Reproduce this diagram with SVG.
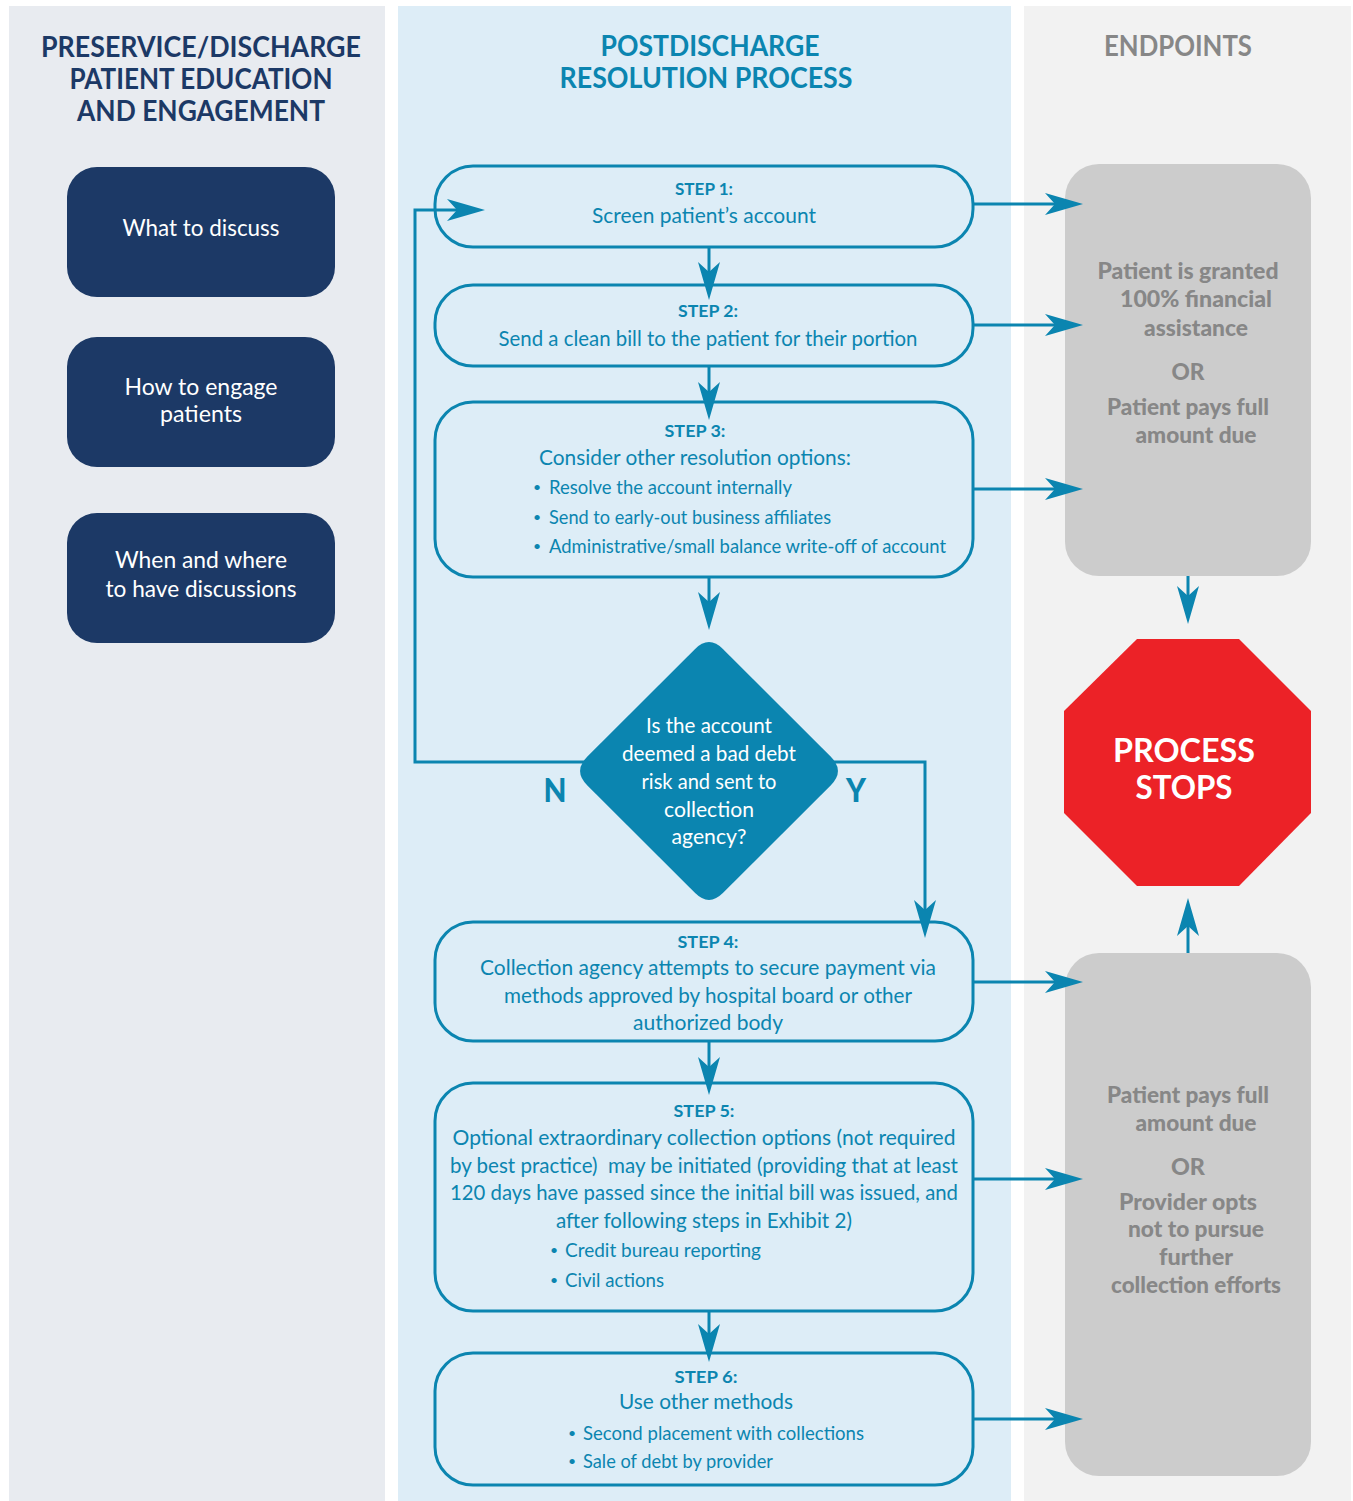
<svg xmlns="http://www.w3.org/2000/svg" width="1353" height="1501" viewBox="0 0 1353 1501">
<style>
text { font-family: Lato, "Open Sans", "Liberation Sans", sans-serif; }
.hdr { font-size: 28px; font-weight: bold; text-anchor: middle; }
.navy-t { font-size: 24px; fill: #ffffff; text-anchor: middle; }
.lbl { font-size: 17px; font-weight: bold; fill: #0b85b0; text-anchor: middle; }
.st { font-size: 22px; fill: #0b85b0; text-anchor: middle; }
.bt { font-size: 19px; fill: #0b85b0; }
.dot { font-size: 14px; fill: #0b85b0; text-anchor: middle; }
.dt { font-size: 22px; fill: #ffffff; text-anchor: middle; }
.gt { font-size: 22px; font-weight: 900; fill: #878787; text-anchor: middle; }
.yn { font-size: 32px; font-weight: 900; fill: #0b85b0; text-anchor: middle; }
.stop { font-size: 33px; font-weight: bold; fill: #ffffff; text-anchor: middle; }
.box { fill: none; stroke: #0b85b0; stroke-width: 3; }
.navy { fill: #1c3966; }
.grey { fill: #cccccc; }
.conn { fill: none; stroke: #0b85b0; stroke-width: 3; marker-end: url(#ah); }
</style>
<defs>
<marker id="ah" markerUnits="userSpaceOnUse" markerWidth="38" markerHeight="22" viewBox="0 0 38 22" refX="10" refY="11" orient="auto">
<path d="M0,0 L38,11 L0,22 L10,11 Z" fill="#0b85b0"/>
</marker>
</defs>
<rect width="1353" height="1501" fill="#ffffff"/>
<g id="panels">
<rect x="9" y="6" width="376" height="1495" fill="#e8ebf0"/>
<rect x="398" y="6" width="613" height="1495" fill="#ddedf7"/>
<rect x="1024" y="6" width="327" height="1495" fill="#f2f2f2"/>
</g>
<g id="headers">
<text class="hdr" fill="#1c3966" x="201" y="57" textLength="320" lengthAdjust="spacingAndGlyphs">PRESERVICE/DISCHARGE</text>
<text class="hdr" fill="#1c3966" x="201" y="89" textLength="263" lengthAdjust="spacingAndGlyphs">PATIENT EDUCATION</text>
<text class="hdr" fill="#1c3966" x="201" y="121" textLength="248" lengthAdjust="spacingAndGlyphs">AND ENGAGEMENT</text>
<text class="hdr" fill="#0b85b0" x="710" y="56" textLength="219" lengthAdjust="spacingAndGlyphs">POSTDISCHARGE</text>
<text class="hdr" fill="#0b85b0" x="706" y="88" textLength="293" lengthAdjust="spacingAndGlyphs">RESOLUTION PROCESS</text>
<text class="hdr" fill="#878787" x="1178" y="56" textLength="148" lengthAdjust="spacingAndGlyphs">ENDPOINTS</text>
</g>
<g id="edu-what">
<rect class="navy" x="67" y="167" width="268" height="130" rx="30"/>
<text class="navy-t" x="201" y="236" textLength="157" lengthAdjust="spacingAndGlyphs">What to discuss</text>
</g>
<g id="edu-how">
<rect class="navy" x="67" y="337" width="268" height="130" rx="30"/>
<text class="navy-t" x="201" y="395" textLength="153" lengthAdjust="spacingAndGlyphs">How to engage</text>
<text class="navy-t" x="201" y="422" textLength="82" lengthAdjust="spacingAndGlyphs">patients</text>
</g>
<g id="edu-when">
<rect class="navy" x="67" y="513" width="268" height="130" rx="30"/>
<text class="navy-t" x="201" y="568" textLength="172" lengthAdjust="spacingAndGlyphs">When and where</text>
<text class="navy-t" x="201" y="597" textLength="191" lengthAdjust="spacingAndGlyphs">to have discussions</text>
</g>
<g id="step1">
<rect class="box" x="435" y="166" width="538" height="81" rx="38"/>
<text class="lbl" x="704" y="195" textLength="58" lengthAdjust="spacingAndGlyphs">STEP 1:</text>
<text class="st" x="704" y="223" textLength="224" lengthAdjust="spacingAndGlyphs">Screen patient’s account</text>
</g>
<g id="step2">
<rect class="box" x="435" y="285" width="538" height="81" rx="38"/>
<text class="lbl" x="708" y="317" textLength="60" lengthAdjust="spacingAndGlyphs">STEP 2:</text>
<text class="st" x="708" y="346" textLength="419" lengthAdjust="spacingAndGlyphs">Send a clean bill to the patient for their portion</text>
</g>
<g id="step3">
<rect class="box" x="435" y="402" width="538" height="175" rx="38"/>
<text class="lbl" x="695" y="437" textLength="61" lengthAdjust="spacingAndGlyphs">STEP 3:</text>
<text class="st" x="695" y="465" textLength="312" lengthAdjust="spacingAndGlyphs">Consider other resolution options:</text>
<text class="dot" x="537" y="492">•</text>
<text class="bt" x="549" y="494" textLength="243" lengthAdjust="spacingAndGlyphs">Resolve the account internally</text>
<text class="dot" x="537" y="522">•</text>
<text class="bt" x="549" y="524" textLength="282" lengthAdjust="spacingAndGlyphs">Send to early-out business affiliates</text>
<text class="dot" x="537" y="551">•</text>
<text class="bt" x="549" y="553" textLength="397" lengthAdjust="spacingAndGlyphs">Administrative/small balance write-off of account</text>
</g>
<g id="step4">
<rect class="box" x="435" y="922" width="538" height="119" rx="38"/>
<text class="lbl" x="708" y="948" textLength="61" lengthAdjust="spacingAndGlyphs">STEP 4:</text>
<text class="st" x="708" y="975" textLength="456" lengthAdjust="spacingAndGlyphs">Collection agency attempts to secure payment via</text>
<text class="st" x="708" y="1003" textLength="408" lengthAdjust="spacingAndGlyphs">methods approved by hospital board or other</text>
<text class="st" x="708" y="1030" textLength="150" lengthAdjust="spacingAndGlyphs">authorized body</text>
</g>
<g id="step5">
<rect class="box" x="435" y="1083" width="538" height="228" rx="38"/>
<text class="lbl" x="704" y="1117" textLength="61" lengthAdjust="spacingAndGlyphs">STEP 5:</text>
<text class="st" x="704" y="1145" textLength="503" lengthAdjust="spacingAndGlyphs">Optional extraordinary collection options (not required</text>
<text class="st" x="704" y="1173" textLength="508" lengthAdjust="spacingAndGlyphs" xml:space="preserve">by best practice)  may be initiated (providing that at least</text>
<text class="st" x="704" y="1200" textLength="508" lengthAdjust="spacingAndGlyphs">120 days have passed since the initial bill was issued, and</text>
<text class="st" x="704" y="1228" textLength="296" lengthAdjust="spacingAndGlyphs">after following steps in Exhibit 2)</text>
<text class="dot" x="554" y="1255">•</text>
<text class="bt" x="565" y="1257" textLength="196" lengthAdjust="spacingAndGlyphs">Credit bureau reporting</text>
<text class="dot" x="554" y="1285">•</text>
<text class="bt" x="565" y="1287" textLength="99" lengthAdjust="spacingAndGlyphs">Civil actions</text>
</g>
<g id="step6">
<rect class="box" x="435" y="1353" width="538" height="132" rx="38"/>
<text class="lbl" x="706" y="1383" textLength="63" lengthAdjust="spacingAndGlyphs">STEP 6:</text>
<text class="st" x="706" y="1409" textLength="174" lengthAdjust="spacingAndGlyphs">Use other methods</text>
<text class="dot" x="572" y="1438">•</text>
<text class="bt" x="583" y="1440" textLength="281" lengthAdjust="spacingAndGlyphs">Second placement with collections</text>
<text class="dot" x="572" y="1466">•</text>
<text class="bt" x="583" y="1468" textLength="190" lengthAdjust="spacingAndGlyphs">Sale of debt by provider</text>
</g>
<g id="endpoint-top">
<rect class="grey" x="1065" y="164" width="246" height="412" rx="34"/>
<text class="gt" x="1188" y="279" textLength="181" lengthAdjust="spacingAndGlyphs">Patient is granted</text>
<text class="gt" x="1196" y="307" textLength="152" lengthAdjust="spacingAndGlyphs">100% financial</text>
<text class="gt" x="1196" y="336" textLength="104" lengthAdjust="spacingAndGlyphs">assistance</text>
<text class="gt" x="1188" y="380" textLength="33" lengthAdjust="spacingAndGlyphs">OR</text>
<text class="gt" x="1188" y="415" textLength="162" lengthAdjust="spacingAndGlyphs">Patient pays full</text>
<text class="gt" x="1196" y="443" textLength="121" lengthAdjust="spacingAndGlyphs">amount due</text>
</g>
<g id="endpoint-bottom">
<rect class="grey" x="1065" y="953" width="246" height="523" rx="34"/>
<text class="gt" x="1188" y="1103" textLength="162" lengthAdjust="spacingAndGlyphs">Patient pays full</text>
<text class="gt" x="1196" y="1131" textLength="121" lengthAdjust="spacingAndGlyphs">amount due</text>
<text class="gt" x="1188" y="1175" textLength="34" lengthAdjust="spacingAndGlyphs">OR</text>
<text class="gt" x="1188" y="1210" textLength="138" lengthAdjust="spacingAndGlyphs">Provider opts</text>
<text class="gt" x="1196" y="1237" textLength="136" lengthAdjust="spacingAndGlyphs">not to pursue</text>
<text class="gt" x="1196" y="1265" textLength="74" lengthAdjust="spacingAndGlyphs">further</text>
<text class="gt" x="1196" y="1293" textLength="170" lengthAdjust="spacingAndGlyphs">collection efforts</text>
</g>
<g id="process-stops">
<polygon points="1137,639 1239,639 1311,711 1311,813 1239,886 1137,886 1064,813 1064,711" fill="#ec2227"/>
<text class="stop" x="1184" y="762" textLength="142" lengthAdjust="spacingAndGlyphs">PROCESS</text>
<text class="stop" x="1184" y="799" textLength="97" lengthAdjust="spacingAndGlyphs">STOPS</text>
</g>
<g id="connectors">
<path class="conn" d="M973,204 H1055"/>
<path class="conn" d="M973,325 H1055"/>
<path class="conn" d="M973,489 H1055"/>
<path class="conn" d="M973,982 H1055"/>
<path class="conn" d="M973,1179 H1055"/>
<path class="conn" d="M973,1419 H1055"/>
<path class="conn" d="M709,247 V272"/>
<path class="conn" d="M709,366 V392"/>
<path class="conn" d="M709,577 V602"/>
<path class="conn" d="M709,1041 V1067"/>
<path class="conn" d="M709,1311 V1334"/>
<path class="conn" d="M590,762 H415 V210 H457"/>
<path class="conn" d="M830,762 H925 V910"/>
<path class="conn" d="M1188,576 V596"/>
<path class="conn" d="M1188,953 V926"/>
<text class="yn" x="555" y="802" textLength="23" lengthAdjust="spacingAndGlyphs">N</text>
<text class="yn" x="856" y="802" textLength="20" lengthAdjust="spacingAndGlyphs">Y</text>
</g>
<g id="decision">
<path d="M694.86,649.14 Q709,635 723.14,649.14 L830.86,756.86 Q845,771 830.86,785.14 L723.14,892.86 Q709,907 694.86,892.86 L587.14,785.14 Q573,771 587.14,756.86 Z" fill="#0b85b0"/>
<text class="dt" x="709" y="733" textLength="126" lengthAdjust="spacingAndGlyphs">Is the account</text>
<text class="dt" x="709" y="761" textLength="174" lengthAdjust="spacingAndGlyphs">deemed a bad debt</text>
<text class="dt" x="709" y="789" textLength="135" lengthAdjust="spacingAndGlyphs">risk and sent to</text>
<text class="dt" x="709" y="817" textLength="90" lengthAdjust="spacingAndGlyphs">collection</text>
<text class="dt" x="709" y="844" textLength="75" lengthAdjust="spacingAndGlyphs">agency?</text>
</g>
</svg>
